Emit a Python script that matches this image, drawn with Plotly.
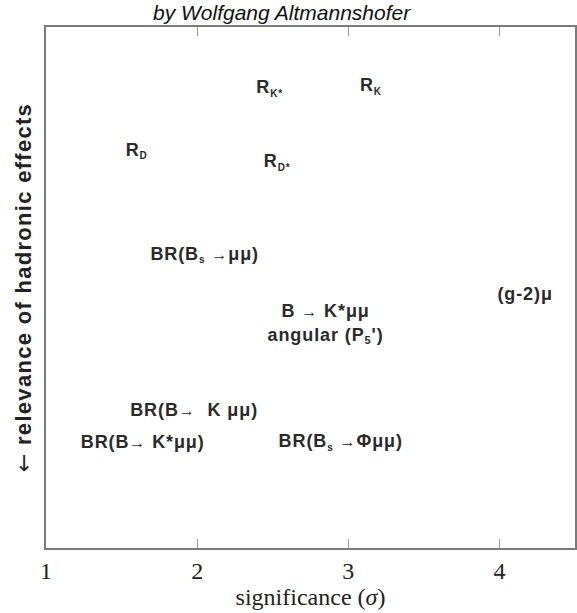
import plotly.graph_objects as go

# Data
A = "<span style='font-size:16px'>→</span>"
def sub(s, size=10):
    return f"<sub><span style='font-size:{size}px'>{s}</span></sub>"

labels = [
    "R" + sub("K*"),
    "R" + sub("K"),
    "R" + sub("D"),
    "R" + sub("D*"),
    "BR(B" + sub("s") + " " + A + "μμ)",
    "B " + A + " K*μμ<br>angular (P" + sub("5", 11) + "')",
    "(g-2)μ",
    "BR(B" + A + "  K μμ)",
    "BR(B" + A + " K*μμ)",
    "BR(B" + sub("s") + " " + A + "Φμμ)",
]
significance = [2.48, 3.15, 1.60, 2.53, 2.05, 2.85, 4.17, 1.98, 1.64, 2.95]
relevance = [8.82, 8.86, 7.62, 7.40, 5.62, 4.29, 4.85, 2.62, 2.0, 2.02]
x_ticks = [1, 2, 3, 4]

spaced = ["<span style='letter-spacing:0.9px'>" + t.replace("<br>", "</span><br><span style='letter-spacing:0.9px'>") + "</span>"
          for t in labels]

fig = go.Figure()
fig.add_trace(go.Scatter(
    x=significance, y=relevance, mode="text", text=spaced,
    textfont=dict(family="Liberation Sans", size=18, color="#2a2a2a", weight="bold"),
    textposition="middle center", hoverinfo="skip", showlegend=False,
))

fig.update_layout(
    width=577, height=613,
    margin=dict(l=46, r=2, t=27, b=65),
    paper_bgcolor="white", plot_bgcolor="white",
    xaxis=dict(
        range=[1, 4.5], tickvals=x_ticks, ticktext=[str(v) for v in x_ticks],
        showgrid=False, zeroline=False, automargin=False,
        showline=True, linecolor="#7a7a7a", linewidth=2, mirror="ticks",
        ticks="inside", ticklen=9, tickcolor="#9a9a9a", tickwidth=1,
        tickfont=dict(family="Liberation Serif", size=24, color="#222"),
        title=dict(text="significance (<i>σ</i>)", standoff=2,
                   font=dict(family="Liberation Serif", size=24, color="#222")),
    ),
    yaxis=dict(
        range=[0, 10], showticklabels=False, ticks="",
        showgrid=False, zeroline=False, automargin=False,
        showline=True, linecolor="#7a7a7a", linewidth=2, mirror=True,
        title=dict(text="<span style='letter-spacing:1.3px'><span style='font-family:DejaVu Sans;font-weight:normal'>←</span> relevance of hadronic effects</span>",
                   standoff=6,
                   font=dict(family="Liberation Sans", size=22, color="#222", weight="bold")),
    ),
)
fig.add_annotation(
    text="<i>by Wolfgang Altmannshofer</i>", xref="paper", yref="paper",
    x=0.447, y=1.0, xanchor="center", yanchor="bottom", yshift=1, showarrow=False,
    font=dict(family="Liberation Sans", size=21, color="#111"),
)

fig.write_html("out.html", config={"displayModeBar": False},
               post_script="document.body.style.margin='0';document.body.style.padding='0';")
